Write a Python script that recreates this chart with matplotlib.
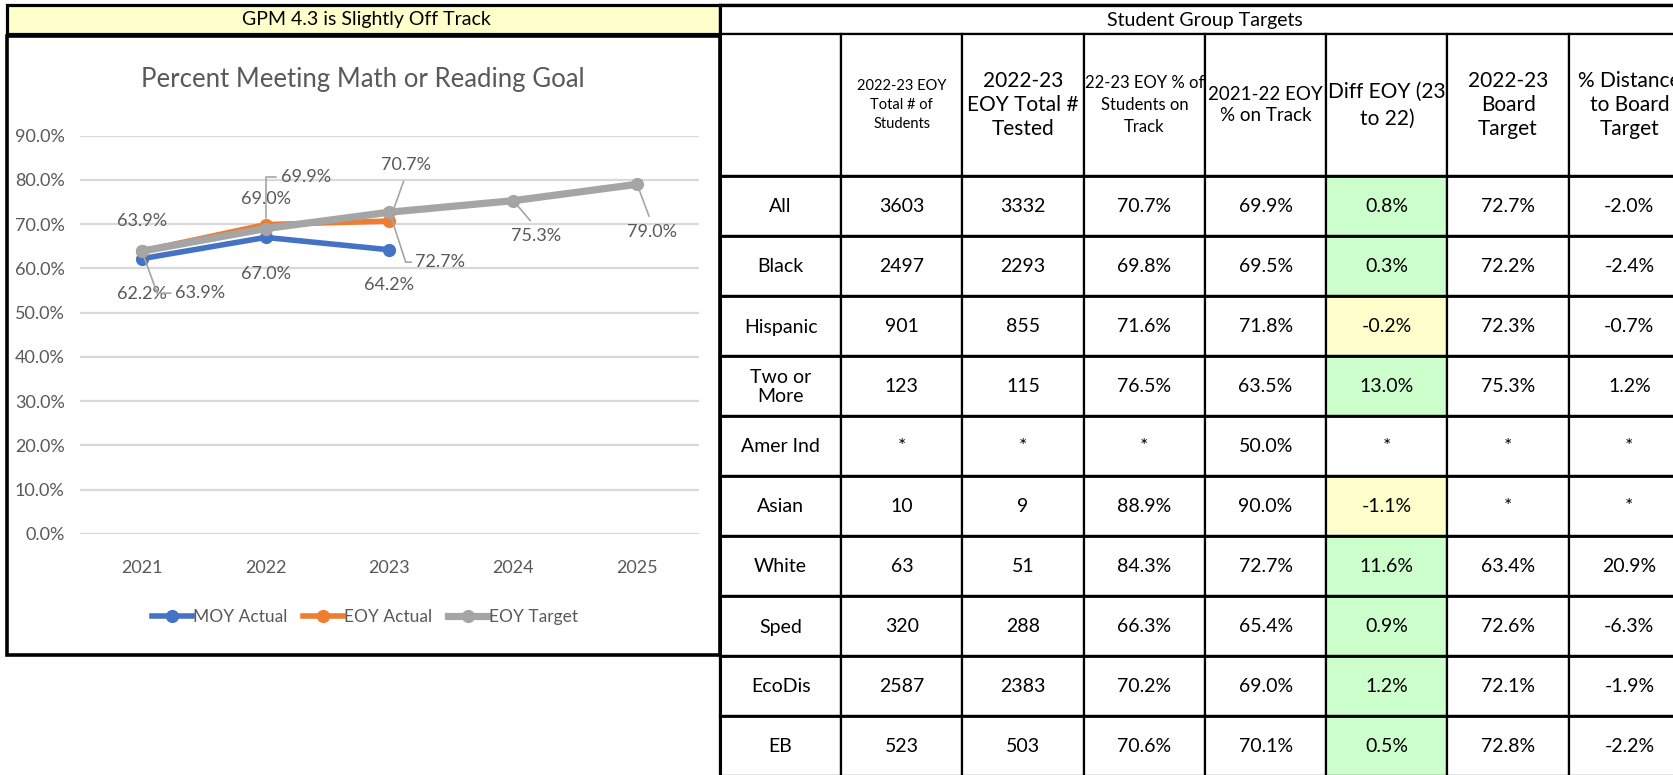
import matplotlib
matplotlib.use('Agg')
import matplotlib.pyplot as plt
from matplotlib.patches import Rectangle
from matplotlib.lines import Line2D
import numpy as np

# ---------------- data ----------------
years = ['2021', '2022', '2023', '2024', '2025']
moy_actual = [0.622, 0.670, 0.642]
eoy_actual = [0.639, 0.699, 0.707]
eoy_target = [0.639, 0.690, 0.727, 0.753, 0.790]

groups = ['All', 'Black', 'Hispanic', 'Two or\nMore', 'Amer Ind', 'Asian',
          'White', 'Sped', 'EcoDis', 'EB']
total_students = [3603, 2497, 901, 123, None, 10, 63, 320, 2587, 523]
total_tested = [3332, 2293, 855, 115, None, 9, 51, 288, 2383, 503]
pct_track_23 = [70.7, 69.8, 71.6, 76.5, None, 88.9, 84.3, 66.3, 70.2, 70.6]
pct_track_22 = [69.9, 69.5, 71.8, 63.5, 50.0, 90.0, 72.7, 65.4, 69.0, 70.1]
diff_eoy = [0.8, 0.3, -0.2, 13.0, None, -1.1, 11.6, 0.9, 1.2, 0.5]
board_target = [72.7, 72.2, 72.3, 75.3, None, None, 63.4, 72.6, 72.1, 72.8]
dist_to_target = [-2.0, -2.4, -0.7, 1.2, None, None, 20.9, -6.3, -1.9, -2.2]
headers = ['', '2022-23 EOY\nTotal # of\nStudents', '2022-23\nEOY Total #\nTested',
           '22-23 EOY % of\nStudents on\nTrack', '2021-22 EOY\n% on Track',
           'Diff EOY (23\nto 22)', '2022-23\nBoard\nTarget', '% Distance\nto Board\nTarget']
banner_text = 'GPM 4.3 is Slightly Off Track'
table_title = 'Student Group Targets'
chart_title = 'Percent Meeting Math or Reading Goal'

# ---------------- style ----------------
W, H = 1674, 775
CHART_FONT = ['Lato', 'DejaVu Sans']
TABLE_FONT = ['Lato', 'DejaVu Sans']
TXT = '#595959'
BLUE, ORANGE, GRAY = '#4472C4', '#ED7D31', '#A5A5A5'
GREEN_FILL, YELLOW_FILL = '#CCFFCC', '#FFFFCC'

fig = plt.figure(figsize=(W / 100, H / 100), dpi=100)
fig.patch.set_facecolor('white')

bg = fig.add_axes([0, 0, 1, 1])
bg.set_xlim(0, W)
bg.set_ylim(H, 0)
bg.axis('off')

# left banner and chart box
bg.add_patch(Rectangle((7, 5), 713, 29, fc=YELLOW_FILL, ec='black', lw=2.3, zorder=2))
bg.text(366, 20, banner_text, ha='center', va='center', fontsize=14,
        family=TABLE_FONT, color='black', zorder=3)
bg.add_patch(Rectangle((7, 36), 713, 619, fc='white', ec='black', lw=2.6, zorder=2))

# ---------------- table ----------------
TX0, COLW = 720, 121.25
TITLE_TOP, TITLE_BOT, HEAD_BOT, ROWH = 5, 34, 176, 60
ncols = len(headers)
bg.add_patch(Rectangle((TX0, TITLE_TOP), ncols * COLW, TITLE_BOT - TITLE_TOP,
                       fc='white', ec='black', lw=1.6, zorder=2))
bg.plot([TX0, TX0 + ncols * COLW], [TITLE_TOP, TITLE_TOP], color='black', lw=2.4, zorder=4)
bg.text(TX0 + ncols * COLW / 2, (TITLE_TOP + TITLE_BOT) / 2 + 1, table_title,
        ha='center', va='center', fontsize=14, family=TABLE_FONT, zorder=3)

hdr_sizes = [14, 10.5, 15, 12, 13.5, 15, 15, 15]
hdr_spacing = [1.2, 1.45, 1.25, 1.45, 1.35, 1.45, 1.25, 1.25]
for c, h in enumerate(headers):
    x = TX0 + c * COLW
    bg.add_patch(Rectangle((x, TITLE_BOT), COLW, HEAD_BOT - TITLE_BOT,
                           fc='white', ec='black', lw=1.6, zorder=2))
    if h:
        bg.text(x + COLW / 2, (TITLE_BOT + HEAD_BOT) / 2, h, ha='center', va='center',
                fontsize=hdr_sizes[c], family=TABLE_FONT, linespacing=hdr_spacing[c],
                zorder=3)


def fmt_int(v):
    return '*' if v is None else f'{v}'


def fmt_pct(v):
    return '*' if v is None else f'{v:.1f}%'


columns = [groups,
           [fmt_int(v) for v in total_students],
           [fmt_int(v) for v in total_tested],
           [fmt_pct(v) for v in pct_track_23],
           [fmt_pct(v) for v in pct_track_22],
           [fmt_pct(v) for v in diff_eoy],
           [fmt_pct(v) for v in board_target],
           [fmt_pct(v) for v in dist_to_target]]

for r in range(len(groups)):
    y = HEAD_BOT + r * ROWH
    for c in range(ncols):
        x = TX0 + c * COLW
        fc = 'white'
        if c == 5 and diff_eoy[r] is not None:
            fc = GREEN_FILL if diff_eoy[r] > 0 else YELLOW_FILL
        bg.add_patch(Rectangle((x, y), COLW, ROWH, fc=fc, ec='black', lw=1.6, zorder=2))
        bg.text(x + COLW / 2, y + ROWH / 2 + 1, columns[c][r], ha='center', va='center',
                fontsize=14, family=TABLE_FONT, linespacing=1.2, zorder=3)

# thicker row separators
for r in range(len(groups) + 1):
    y = HEAD_BOT + r * ROWH
    bg.plot([TX0, TX0 + ncols * COLW], [y, y], color='black', lw=2.0, zorder=4)
bg.plot([TX0, TX0], [TITLE_TOP, H], color='black', lw=2.2, zorder=4)

# ---------------- chart ----------------
ax = fig.add_axes([80 / W, 1 - 534 / H, 619 / W, (534 - 135.6) / H])
ax.set_facecolor('none')
x = np.arange(len(years))
ax.set_xlim(-0.5, len(years) - 0.5)
ax.set_ylim(0, 0.9)
yt = np.arange(0, 10) / 10
ax.set_yticks(yt)
ax.set_yticklabels([f'{v * 100:.1f}%' for v in yt])
ax.set_xticks(x)
ax.set_xticklabels(years)
for s in ax.spines.values():
    s.set_visible(False)
ax.tick_params(axis='both', length=0, colors=TXT, labelsize=13)
ax.tick_params(axis='x', pad=19)
ax.tick_params(axis='y', pad=11)
for lab in ax.get_xticklabels() + ax.get_yticklabels():
    lab.set_family(CHART_FONT)
ax.grid(axis='y', color='#D9D9D9', lw=1.6)
ax.set_axisbelow(True)

series = [('MOY Actual', moy_actual, BLUE, 4.0),
          ('EOY Actual', eoy_actual, ORANGE, 4.0),
          ('EOY Target', eoy_target, GRAY, 5.2)]
for i, (name, vals, col, lw) in enumerate(series):
    ax.plot(x[:len(vals)], vals, color=col, lw=lw, marker='o', ms=8.5,
            solid_capstyle='round', zorder=3 + i, clip_on=False)

# data labels: (series index, point index, dx px, dy px, leader style)
label_layout = [
    (1, 0, 0, 30, None),
    (0, 0, 0, -35, None),
    (2, 0, 58, -42, 'elbowB-70'),
    (2, 1, 0, 30, None),
    (1, 1, 40, 48, 'elbow90'),
    (0, 1, 0, -37, None),
    (1, 2, 17, 56, 'down'),
    (2, 2, 51, -50, 'elbowB-72'),
    (0, 2, 0, -35, None),
    (2, 3, 23, -35, 'up'),
    (2, 4, 15, -48, 'up'),
]
for si, pi, dx, dy, leader in label_layout:
    v = series[si][1][pi]
    kw = {}
    if leader == 'elbow90':
        kw = dict(arrowprops=dict(arrowstyle='-', color=GRAY, lw=1.2, shrinkA=1, shrinkB=5,
                                  relpos=(0, 0.5),
                                  connectionstyle='angle,angleA=0,angleB=90,rad=0'))
    elif leader and leader.startswith('elbowB'):
        ang = float(leader[6:])
        kw = dict(arrowprops=dict(arrowstyle='-', color=GRAY, lw=1.2, shrinkA=1, shrinkB=5,
                                  relpos=(0, 0.5),
                                  connectionstyle=f'angle,angleA=0,angleB={ang},rad=0'))
    elif leader == 'down':
        kw = dict(arrowprops=dict(arrowstyle='-', color=GRAY, lw=1.2, shrinkA=4, shrinkB=5,
                                  relpos=(0.5, 0)))
    elif leader == 'up':
        kw = dict(arrowprops=dict(arrowstyle='-', color=GRAY, lw=1.2, shrinkA=4, shrinkB=5,
                                  relpos=(0.5, 1)))
    ax.annotate(f'{v * 100:.1f}%', xy=(x[pi], v), xytext=(dx, dy),
                textcoords='offset pixels', ha='center', va='center', fontsize=13,
                color=TXT, family=CHART_FONT, annotation_clip=False,
                zorder=8, **kw)

fig.text(363 / W, 1 - 80 / H, chart_title, ha='center', va='center', fontsize=18.5,
         color=TXT, family=CHART_FONT)

handles = [Line2D([], [], color=c, lw=lw, marker='o', ms=8.5) for _, _, c, lw in series]
leg = ax.legend(handles, [s[0] for s in series], loc='center',
                bbox_to_anchor=(365 / W, 1 - 617 / H), bbox_transform=fig.transFigure,
                ncol=3, frameon=False, handlelength=2.3, handletextpad=0.05,
                columnspacing=0.9, prop={'family': CHART_FONT, 'size': 12.5})
for t in leg.get_texts():
    t.set_color(TXT)

fig.savefig('out.png', dpi=100)
